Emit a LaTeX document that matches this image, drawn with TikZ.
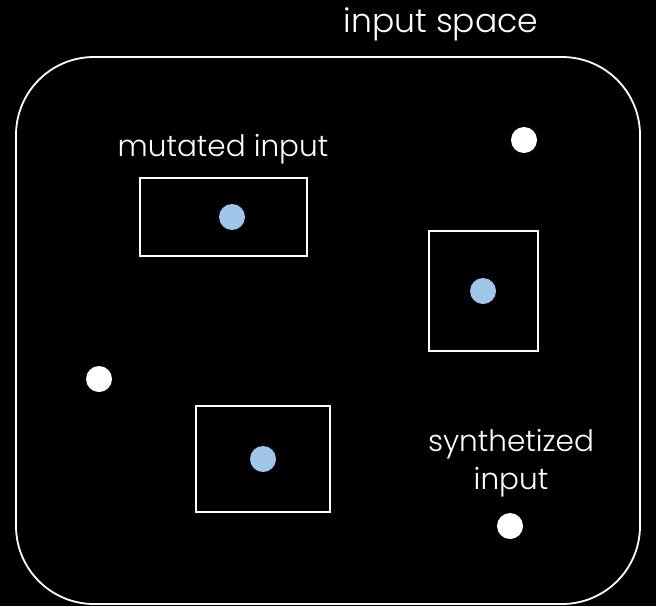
\documentclass[tikz,border=0pt]{standalone}
\usepackage{fontspec}
\setmainfont{Poppins Light}
\definecolor{dotblue}{HTML}{9FC5E8}
\begin{document}
\begin{tikzpicture}[x=1pt,y=-1pt,
  frame/.style={draw=white,line width=1.8pt},
  inbox/.style={draw=white,line width=1.8pt,fill=black},
  mdot/.style={circle,fill=dotblue,inner sep=0pt,minimum size=26pt},
  sdot/.style={circle,fill=white,inner sep=0pt,minimum size=26pt},
  lab/.style={text=white,font=\fontsize{29.5}{38}\selectfont,align=center,inner sep=0pt}]
\fill[black] (0,0) rectangle (656,606);
\useasboundingbox (0,0) rectangle (656,606);
\draw[frame,rounded corners=78pt] (16,57) rectangle (640,604);
\node[lab,font=\fontsize{33}{38}\selectfont] (title) at (441,24) {input space};
\node[lab] (mutlab) at (223,149) {mutated input};
\node[lab] (synlab) at (511,463) {synthetized\\input};
\draw[inbox] (140,178) rectangle (307,256);
\draw[inbox] (429,231) rectangle (538,351);
\draw[inbox] (196,406) rectangle (330,512);
\node[mdot] (m1) at (232,217) {};
\node[mdot] (m2) at (483,291) {};
\node[mdot] (m3) at (263,459) {};
\node[sdot] (s1) at (524,140) {};
\node[sdot] (s2) at (99,379) {};
\node[sdot] (s3) at (510,526) {};
\end{tikzpicture}
\end{document}
